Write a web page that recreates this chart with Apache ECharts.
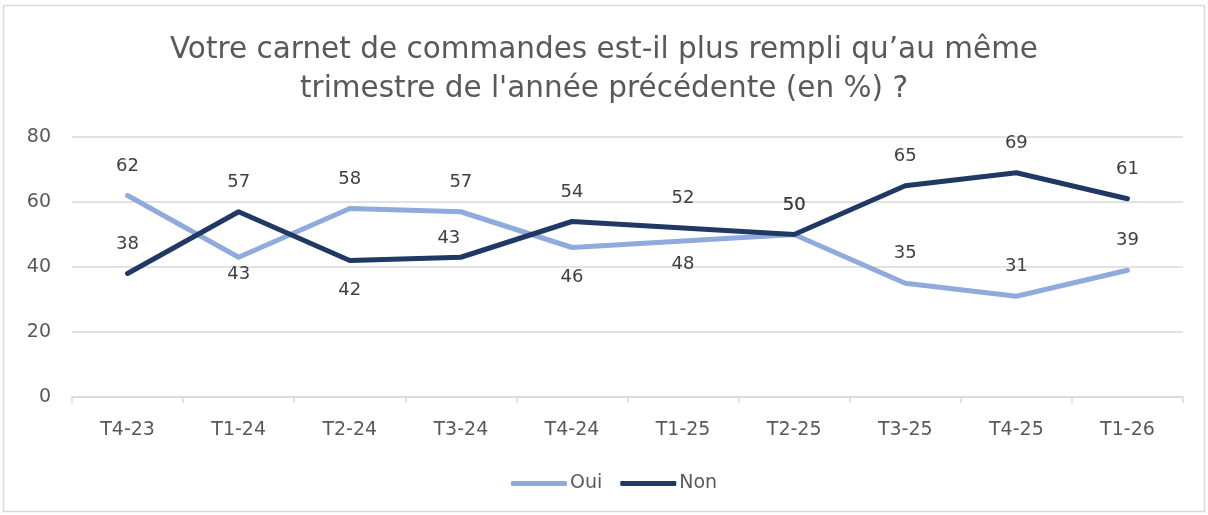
<!DOCTYPE html>
<html>
<head>
<meta charset="utf-8">
<style>
  html, body { margin: 0; padding: 0; background: #ffffff; }
  #chart { width: 1208px; height: 515px; }
</style>
<script src="https://cdn.jsdelivr.net/npm/echarts@6/dist/echarts.min.js"></script>
</head>
<body>
<div id="chart"></div>
<script>
// Quarters surveyed
const categories = ['T4-23', 'T1-24', 'T2-24', 'T3-24', 'T4-24', 'T1-25', 'T2-25', 'T3-25', 'T4-25', 'T1-26'];
// Share of answers (%)
const ouiValues = [62, 43, 58, 57, 46, 48, 50, 35, 31, 39];
const nonValues = [38, 57, 42, 43, 54, 52, 50, 65, 69, 61];
const yTicks = { min: 0, max: 80, interval: 20 };

// Value labels that do not use the default spot above the line: [position, distance, x shift]
const ouiLabelPlace = { 1: ['bottom', 8, 0], 4: ['bottom', 20, 0], 5: ['bottom', 14, 0] };
const nonLabelPlace = { 2: ['bottom', 20, 0], 3: ['top', 9, -12] };

const FONT = '"DejaVu Sans", Verdana, sans-serif';

function buildData(values, place) {
  return values.map((v, i) => {
    const p = place[i];
    if (p) {
      return { value: v, label: { position: p[0], distance: p[1], offset: [p[2], 0] } };
    }
    return v;
  });
}

const chart = echarts.init(document.getElementById('chart'), null, { renderer: 'canvas' });

const labelStyle = {
  show: true,
  position: 'top',
  distance: 20,
  color: '#404040',
  fontSize: 18,
  fontFamily: FONT
};

chart.setOption({
  animation: false,
  backgroundColor: '#ffffff',
  graphic: [{
    type: 'rect',
    shape: { x: 3.5, y: 5.5, width: 1201, height: 506 },
    style: { fill: 'none', stroke: '#d9d9d9', lineWidth: 1.5 },
    silent: true,
    z: -1
  }],
  title: {
    text: 'Votre carnet de commandes est-il plus rempli qu\u2019au même\ntrimestre de l\'année précédente (en %) ?',
    left: 'center',
    top: 26,
    textStyle: {
      fontFamily: FONT,
      fontSize: 29.5,
      fontWeight: 'normal',
      color: '#595959',
      lineHeight: 39,
      align: 'center'
    }
  },
  legend: {
    bottom: 17,
    left: 506,
    icon: 'roundRect',
    itemWidth: 56,
    itemHeight: 5,
    itemGap: 18,
    textStyle: { fontFamily: FONT, fontSize: 19, color: '#595959', padding: [0, 0, 0, -2] },
    data: ['Oui', 'Non']
  },
  grid: { left: 72, right: 25, top: 137, bottom: 118, containLabel: false },
  xAxis: {
    type: 'category',
    data: categories,
    boundaryGap: true,
    axisLine: { lineStyle: { color: '#d9d9d9', width: 1.5 } },
    axisTick: { show: true, length: 6, lineStyle: { color: '#d9d9d9', width: 1.5 } },
    axisLabel: { color: '#595959', fontSize: 19, fontFamily: FONT, margin: 24 }
  },
  yAxis: {
    type: 'value',
    min: yTicks.min,
    max: yTicks.max,
    interval: yTicks.interval,
    axisLine: { show: false },
    axisTick: { show: false },
    splitLine: { lineStyle: { color: '#d9d9d9', width: 1.5 } },
    axisLabel: { color: '#595959', fontSize: 19, fontFamily: FONT, margin: 21 }
  },
  series: [
    {
      name: 'Oui',
      type: 'line',
      data: buildData(ouiValues, ouiLabelPlace),
      symbol: 'circle',
      symbolSize: 1,
      itemStyle: { color: '#8faadc' },
      lineStyle: { color: '#8faadc', width: 5, cap: 'round', join: 'round' },
      label: labelStyle,
      z: 2
    },
    {
      name: 'Non',
      type: 'line',
      data: buildData(nonValues, nonLabelPlace),
      symbol: 'circle',
      symbolSize: 1,
      itemStyle: { color: '#203864' },
      lineStyle: { color: '#203864', width: 5, cap: 'round', join: 'round' },
      label: labelStyle,
      z: 3
    }
  ]
});
</script>
</body>
</html>
